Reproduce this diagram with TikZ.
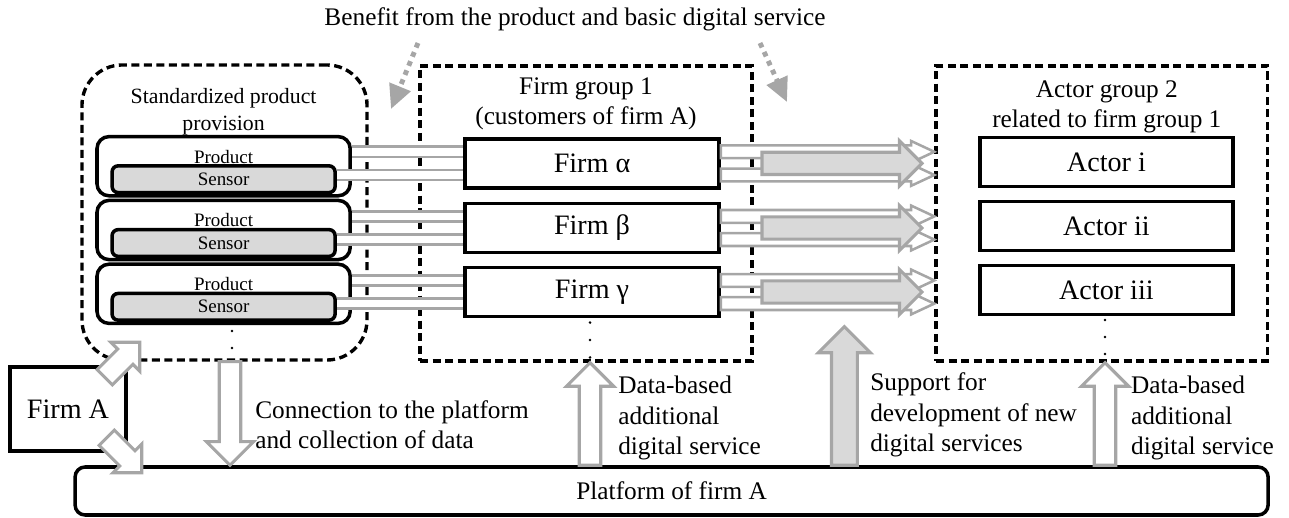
\documentclass[tikz,border=0pt]{standalone}
\usepackage{fontspec}
\setmainfont{Liberation Serif}
\usetikzlibrary{arrows.meta,calc,positioning,shapes.arrows}
\definecolor{arrowgray}{HTML}{A6A6A6}
\definecolor{arrowfill}{HTML}{D9D9D9}
\tikzset{
  firmbox/.style={draw, line width=2.5pt, minimum width=6.35cm, minimum height=1.225cm, font=\fontsize{20}{24}\selectfont},
  groupbox/.style={draw, line width=2.4pt, dash pattern=on 5.7pt off 3.2pt},
  prodbox/.style={draw, line width=2.5pt, rounded corners=0.3cm, minimum width=6.33cm, minimum height=1.48cm},
  sensbox/.style={draw, line width=2.5pt, rounded corners=0.15cm, fill=arrowfill, minimum width=5.575cm, minimum height=0.667cm, inner sep=0pt, font=\fontsize{13.5}{16}\selectfont},
  prodtext/.style={inner sep=0pt, font=\fontsize{13.5}{16}\selectfont},
  note/.style={align=left, anchor=west, inner sep=0pt},
  bandline/.style={draw=arrowgray, line width=1.8pt, double=white, double distance=5.5pt},
  hollow/.style={single arrow, draw=arrowgray, fill=white, line width=2.2pt, inner xsep=0pt, outer sep=0pt, minimum width=0pt},
  liftarrow/.style={hollow, inner ysep=0.23cm, single arrow head extend=0.32cm},
  firmarrow/.style={hollow, inner ysep=0.23cm, single arrow head extend=0.24cm},
  supportarrow/.style={hollow, fill=arrowfill, inner ysep=0.285cm, single arrow head extend=0.33cm},
  gainarrow/.style={hollow, fill=arrowfill, inner ysep=0.24cm, single arrow head extend=0.285cm},
  bandarrow/.style={hollow, line width=1.8pt, inner ysep=0.128cm, single arrow head extend=0.11cm, single arrow tip angle=50},
  hint/.style={draw=arrowgray, line width=3.5pt, dash pattern=on 3.5pt off 3.5pt, -{Triangle[length=0.6cm,width=0.55cm]}},
  block/.style={to path={let \p1=(\tikztostart), \p2=(\tikztotarget),
    \n1={veclen(\x2-\x1,\y2-\y1)}, \n2={atan2(\y2-\y1,\x2-\x1)} in
    node[#1, minimum height=\n1, rotate=\n2, anchor=tail] at (\p1) {}}}
}
\begin{document}
\begin{tikzpicture}[font=\fontsize{18}{21.6}\selectfont]
\useasboundingbox (0,0) rectangle (32.225,12.925);
% the three groups
\node[groupbox, rounded corners=1cm, minimum width=7.125cm, minimum height=7.375cm] (std) at (5.6125,7.6125) {};
\node[groupbox, minimum width=8.3cm, minimum height=7.375cm] (grp1) at (14.65,7.5875) {};
\node[groupbox, minimum width=8.29cm, minimum height=7.375cm] (grp2) at (27.545,7.5875) {};
\node[align=center, font=\fontsize{15.5}{19.2}\selectfont] (stdlabel) at (5.59,10.14) {Standardized product\\provision};
\node[align=center] (grp1label) at (14.65,10.33) {Firm group 1\\(customers of firm A)};
\node[align=center] (grp2label) at (27.67,10.26) {Actor group 2\\related to firm group 1};
\node (benefit) at (14.375,12.43) {Benefit from the product and basic digital service};
% products, each carrying a sensor
\node[prodbox] (prod1) at (5.59,8.77) {};
\node[prodbox] (prod2) at (5.59,7.175) {};
\node[prodbox] (prod3) at (5.59,5.58) {};
\node[sensbox] (sens1) at ($(prod1)+(0,-0.325)$) {Sensor};
\node[sensbox] (sens2) at ($(prod2)+(0,-0.325)$) {Sensor};
\node[sensbox] (sens3) at ($(prod3)+(0,-0.325)$) {Sensor};
\node[prodtext] at ($(prod1)+(0,0.24)$) {Product};
\node[prodtext] at ($(prod2)+(0,0.24)$) {Product};
\node[prodtext] at ($(prod3)+(0,0.24)$) {Product};
% customer firms and related actors
\node[firmbox] (firm1) at (14.8,8.84) {Firm α};
\node[firmbox] (firm2) at (14.8,7.225) {Firm β};
\node[firmbox] (firm3) at (14.8,5.625) {Firm γ};
\node[firmbox, minimum width=6.325cm] (actor1) at (27.66,8.87) {Actor i};
\node[firmbox, minimum width=6.325cm] (actor2) at (27.66,7.275) {Actor ii};
\node[firmbox, minimum width=6.325cm] (actor3) at (27.66,5.67) {Actor iii};
\foreach \y in {4.65,4.225} \fill (5.8,\y) circle (0.035);
\foreach \y in {4.86,4.425,3.99} \fill (14.75,\y) circle (0.035);
\foreach \y in {4.925,4.5,4.075} \fill (27.625,\y) circle (0.035);
% firm A and its platform
\node[draw, line width=2.5pt, minimum width=2.9cm, minimum height=2.1cm, font=\fontsize{20}{24}\selectfont] (firmA) at (1.7,2.7) {Firm A};
\node[draw, line width=2.5pt, rounded corners=0.25cm, minimum width=29.825cm, minimum height=1.2cm] (platform) at (16.79,0.65) {Platform of firm A};
% flows along each row
\coordinate (gx) at (19.05,0);
\coordinate (gy) at (23.05,0);
\foreach \i in {1,2,3}{
  \coordinate (t\i) at ($(firm\i.west)+(0,0.29)$);
  \coordinate (b\i) at ($(firm\i.west)+(0,-0.29)$);
  \draw[bandline] (prod\i.east |- t\i) -- (t\i);
  \draw[bandline] (sens\i.east |- b\i) -- (b\i);
  \path (firm\i.east |- t\i) to[block=bandarrow] (grp2.west |- t\i);
  \path (firm\i.east |- b\i) to[block=bandarrow] (grp2.west |- b\i);
  \path (firm\i.east -| gx) to[block=gainarrow] (firm\i.east -| gy);
}
% vertical arrows to and from the platform
\coordinate (cx) at (5.75,0);
\coordinate (dx1) at (14.75,0);
\coordinate (sup) at (21.11,4.76);
\coordinate (dx2) at (27.625,0);
\path (std.south -| cx) to[block=liftarrow] (platform.north -| cx);
\path (platform.north -| dx1) to[block=liftarrow] (grp1.south -| dx1);
\path (platform.north -| sup) to[block=supportarrow] (sup);
\path (platform.north -| dx2) to[block=liftarrow] (grp2.south -| dx2);
\path ($(firmA.north east)+(-0.575,-0.3)$) to[block=firmarrow] ($(firmA.north east)+(0.3,0.575)$);
\path ($(firmA.south east)+(-0.525,0.375)$) to[block=firmarrow] ($(firmA.south east)+(0.35,-0.5)$);
\node[note] (conntext) at (6.375,2.31) {Connection to the platform\\and collection of data};
\node[note] (data1) at (15.45,2.475) {Data-based\\additional\\digital service};
\node[note] (supptext) at (21.75,2.55) {Support for\\development of new\\digital services};
\node[note] (data2) at (28.27,2.475) {Data-based\\additional\\digital service};
% benefit hints
\coordinate (h1) at (10.45,11.85);
\coordinate (h2) at (19.0,11.85);
\draw[hint] (h1) -- (9.775,10.2);
\draw[hint] (h2) -- (19.675,10.375);
\end{tikzpicture}
\end{document}
